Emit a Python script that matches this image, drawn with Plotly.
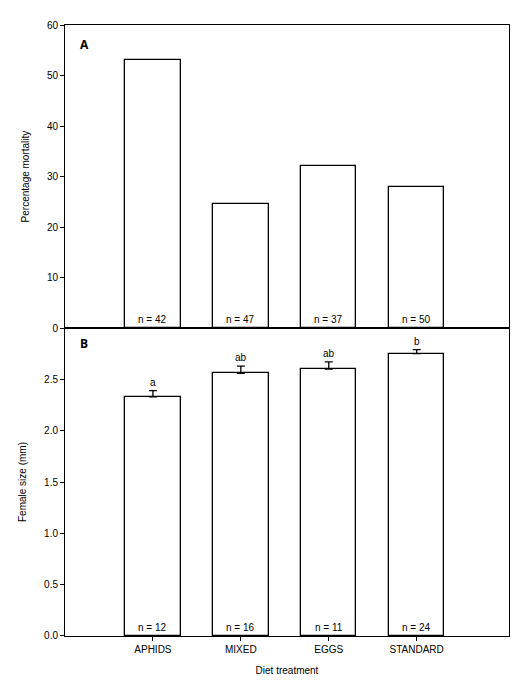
import plotly.graph_objects as go
from plotly.subplots import make_subplots

diets = ["APHIDS", "MIXED", "EGGS", "STANDARD"]
mortality = [53, 24.5, 32, 28]
n_mort = [42, 47, 37, 50]
size = [2.33, 2.56, 2.60, 2.75]
size_err = [0.06, 0.07, 0.07, 0.04]
n_size = [12, 16, 11, 24]
letters = ["a", "ab", "ab", "b"]

fig = make_subplots(rows=2, cols=1, shared_xaxes=True, vertical_spacing=0,
                    row_heights=[0.496, 0.504])

bar_style = dict(marker=dict(color="white", line=dict(color="black", width=1.3)),
                 width=0.63, showlegend=False)
fig.add_trace(go.Bar(x=diets, y=mortality, **bar_style), row=1, col=1)
fig.add_trace(go.Bar(x=diets, y=size, error_y=dict(type="data", array=size_err,
                     arrayminus=[0] * len(size_err), symmetric=False,
                     color="black", thickness=1.3, width=4), **bar_style), row=2, col=1)

f = dict(family="Arial, Liberation Sans", size=10, color="black")
for d, n in zip(diets, n_mort):
    fig.add_annotation(x=d, y=0, yanchor="bottom", yshift=1, text=f"n = {n}",
                       showarrow=False, font=f, row=1, col=1)
for d, n, s, e, l in zip(diets, n_size, size, size_err, letters):
    fig.add_annotation(x=d, y=0, yanchor="bottom", yshift=1, text=f"n = {n}",
                       showarrow=False, font=f, row=2, col=1)
    fig.add_annotation(x=d, y=s + e, yanchor="bottom", yshift=1, text=l,
                       showarrow=False, font=f, row=2, col=1)

fig.add_annotation(xref="x domain", yref="y domain", x=0.03, y=0.97, text="<b>A</b>",
                   showarrow=False, xanchor="left", yanchor="top", font=dict(size=12, color="black"))
fig.add_annotation(xref="x2 domain", yref="y2 domain", x=0.03, y=0.985, text="<b>B</b>",
                   showarrow=False, xanchor="left", yanchor="top", font=dict(size=12, color="black"))

ax = dict(showline=True, linecolor="black", mirror=True, showgrid=False, zeroline=False,
          ticks="outside", ticklen=4, tickcolor="black", tickfont=f)
fig.update_xaxes(**ax, range=[-1, 4.05])
fig.update_xaxes(ticks="", row=1, col=1)
fig.update_xaxes(title=dict(text="Diet treatment", font=f, standoff=12), row=2, col=1)
fig.update_yaxes(**ax)
fig.update_yaxes(range=[0, 60], dtick=10, title=dict(text="Percentage mortality", font=f),
                 row=1, col=1)
fig.update_yaxes(range=[0, 3.0], tickvals=[0, 0.5, 1, 1.5, 2, 2.5], tickformat=".1f",
                 title=dict(text="Female size (mm)", font=f), row=2, col=1)

fig.update_layout(width=520, height=687, margin=dict(l=57, r=19, t=17, b=59),
                  plot_bgcolor="white", paper_bgcolor="white", bargap=0)
fig.write_html("out.html")
